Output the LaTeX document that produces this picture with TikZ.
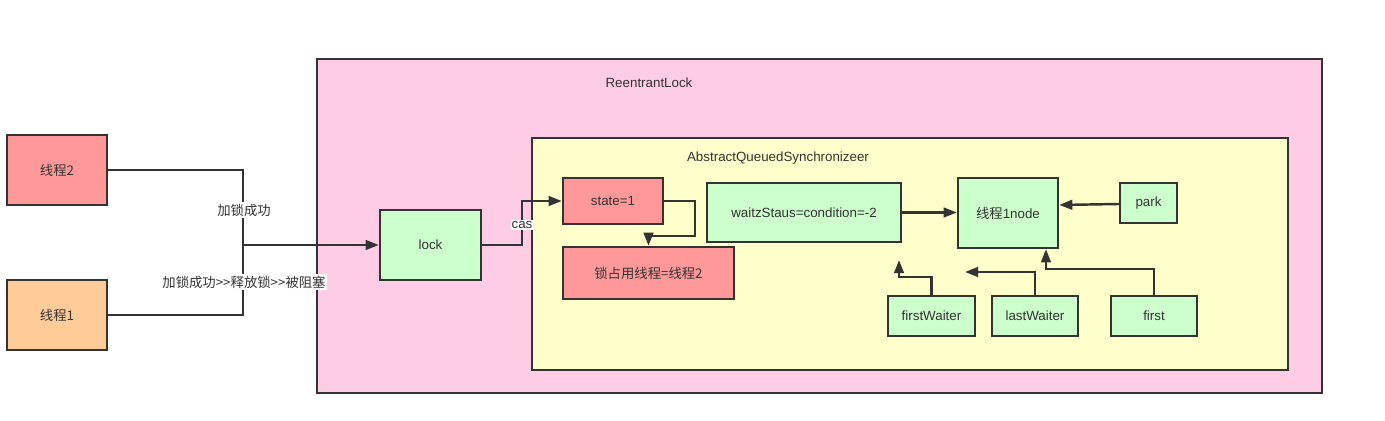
\documentclass[tikz,border=0pt]{standalone}
\usepackage{fontspec}
\setmainfont{Liberation Sans}
\newfontfamily\cjk{Noto Sans CJK SC}
\usepackage{xcolor}
\usetikzlibrary{arrows.meta,positioning}
\definecolor{lockpink}{RGB}{255,204,230}
\definecolor{aqsyellow}{RGB}{255,255,204}
\definecolor{boxred}{RGB}{255,153,153}
\definecolor{boxorange}{RGB}{255,204,153}
\definecolor{boxgreen}{RGB}{204,255,204}
\definecolor{edgegray}{RGB}{51,51,51}

\begin{document}
\begin{tikzpicture}[
    x=0.02cm, y=-0.02cm,
    every node/.style={font=\fontsize{7.6}{9}\selectfont, text=edgegray},
    block/.style={
      rectangle, draw=edgegray, line width=1.4pt,
      inner sep=0pt, align=center
    },
    redblock/.style={block, fill=boxred},
    orangeblock/.style={block, fill=boxorange},
    greenblock/.style={block, fill=boxgreen},
    container/.style={rectangle, draw=edgegray, line width=1.1pt, inner sep=0pt},
    tag/.style={fill=white, inner sep=1pt},
    arrow/.style={-{Triangle[length=7.5pt,width=5.5pt]}, line width=1.4pt, draw=edgegray}
  ]
    \useasboundingbox (0,0) rectangle (1385,421);
    % containers
    \node[container, fill=lockpink, minimum width=20.1cm, minimum height=6.68cm] (reentrant) at (819.5,226) {};
    \node at (649,83) (reentrantlabel) {ReentrantLock};
    \node[container, fill=aqsyellow, minimum width=15.12cm, minimum height=4.64cm] (aqs) at (910,254) {};
    \node at (778,158) (aqslabel) {AbstractQueuedSynchronizeer};
    % threads
    \node[redblock, minimum width=2cm, minimum height=1.4cm] (thread2) at (57,170) {\cjk 线程2};
    \node[orangeblock, minimum width=2cm, minimum height=1.4cm] (thread1) at (57,315) {\cjk 线程1};
    \node[greenblock, minimum width=2.02cm, minimum height=1.4cm] (lock) at (430.5,245) {lock};
    % aqs content
    \node[redblock, minimum width=2cm, minimum height=0.92cm] (state) at (613,201) {state=1};
    \node[redblock, minimum width=3.42cm, minimum height=1.04cm] (owner) at (648.5,273) {\cjk 锁占用线程=线程2};
    \node[greenblock, minimum width=3.88cm, minimum height=1.18cm] (waitz) at (804,212.5) {waitzStaus=condition=-2};
    \node[greenblock, minimum width=2cm, minimum height=1.4cm] (node1) at (1008,213) {{\cjk 线程}1node};
    \node[greenblock, minimum width=1.14cm, minimum height=0.8cm] (park) at (1148.5,203) {park};
    \node[greenblock, minimum width=1.74cm, minimum height=0.8cm] (fwaiter) at (931.5,316) {firstWaiter};
    \node[greenblock, minimum width=1.72cm, minimum height=0.8cm] (lwaiter) at (1035,316) {lastWaiter};
    \node[greenblock, minimum width=1.72cm, minimum height=0.8cm] (first) at (1154,316) {first};
    \coordinate (join) at (243,245);
    \coordinate (fwend) at (899,260);
    \coordinate (lwend) at (965,272);
    % connectors
    \draw[line width=1.4pt, draw=edgegray] (thread2.east) -| (join);
    \draw[line width=1.4pt, draw=edgegray] (thread1.east) -| (join);
    \draw[arrow] (join) -- (lock.west);
    \node[tag] (ok) at (244,210) {\cjk 加锁成功};
    \node[tag] (blocked) at (244,282) {\cjk 加锁成功>>释放锁>>被阻塞};
    \draw[arrow] (lock.east) -- ++(40,0) |- (state.west);
    \node[tag, inner sep=0.5pt] (cas) at (522,225) {cas};
    \draw[arrow] (state.east) -- ++(31,0) -- ++(0,35) -| (owner.north);
    \draw[arrow] (waitz.east) -- (waitz.east -| node1.west);
    \draw[arrow] (park.west) -- ++(0,1) -- ([yshift=-0.04cm]park.west -| node1.east);
    \draw[arrow] (fwaiter.north) -- ++(0,-18) -| (fwend);
    \draw[arrow] (lwaiter.north) |- (lwend);
    \draw[arrow] (first.north) -- ++(0,-26) -| ([xshift=0.76cm]node1.south);
  \end{tikzpicture}
\end{document}
